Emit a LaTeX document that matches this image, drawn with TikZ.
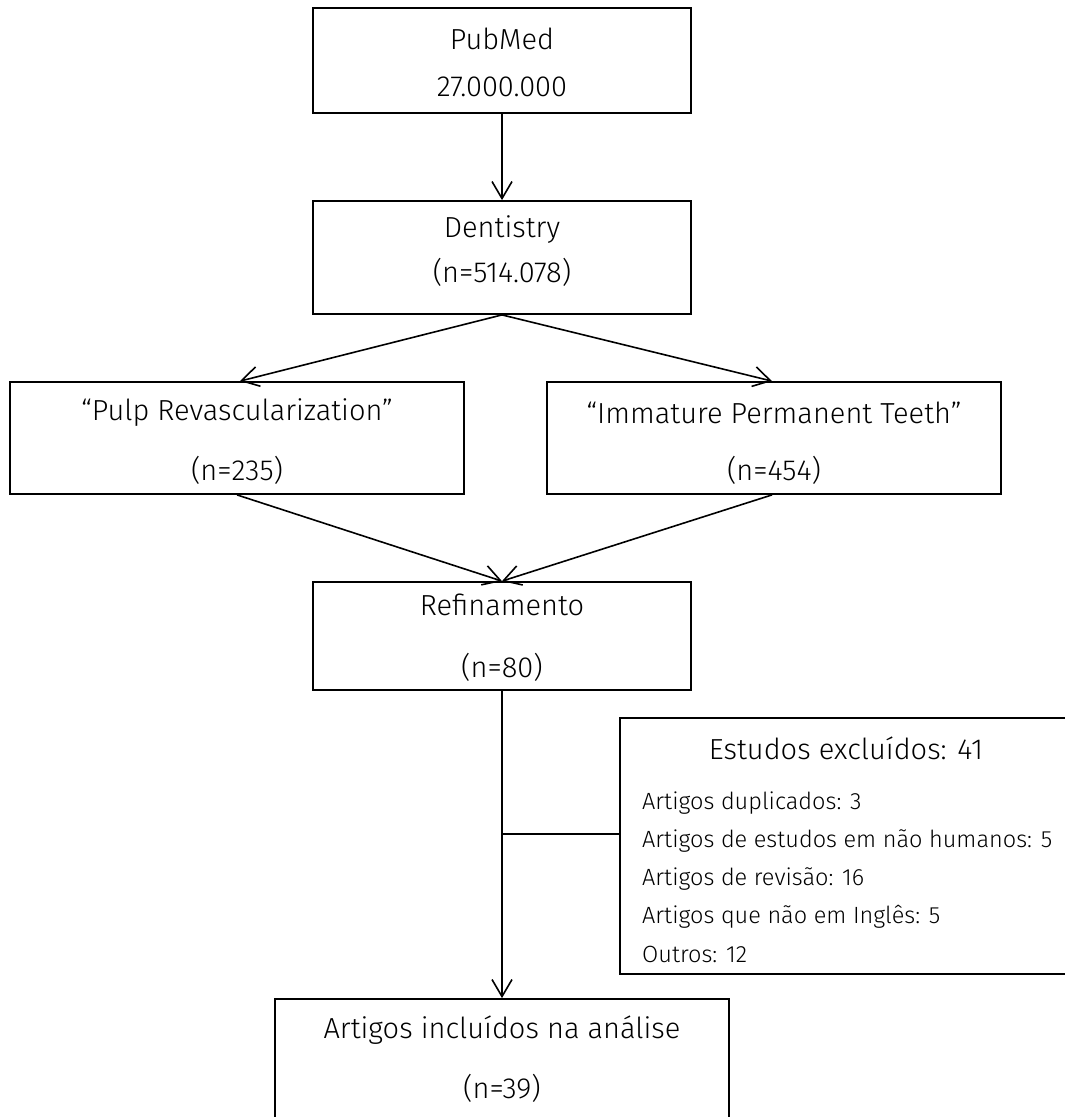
\documentclass[tikz,border=0pt]{standalone}
\usepackage{fontspec}
\setmainfont{Fira Sans}[UprightFont={* Light}]
\usetikzlibrary{arrows.meta}
\begin{document}
\begin{tikzpicture}[x=1pt,y=-1pt,
  box/.style={draw=black,line width=1.8pt,rectangle,inner sep=0pt},
  txt/.style={font=\fontsize{29}{31}\selectfont,inner sep=0pt,anchor=center},
  small/.style={font=\fontsize{23.5}{25}\selectfont,inner sep=0pt,anchor=west},
  conn/.style={line width=1.6pt},
  arr/.style={conn,-{Straight Barb[length=17pt,width=20pt,line width=1.6pt]}}]
\useasboundingbox (0,0) rectangle (1065,1117);
% boxes
\node[box,minimum width=378pt,minimum height=105pt] (pub) at (502,60.5) {};
\node[box,minimum width=378pt,minimum height=113pt] (den) at (502,257.5) {};
\node[box,minimum width=454pt,minimum height=112pt] (pulp) at (237,438) {};
\node[box,minimum width=454pt,minimum height=112pt] (imm) at (774,438) {};
\node[box,minimum width=378pt,minimum height=108pt] (ref) at (502,636) {};
\node[box,minimum width=500pt,minimum height=256pt] (exc) at (870,846) {};
\node[box,minimum width=454pt,minimum height=241pt] (inc) at (502,1119.5) {};
% texts
\node[txt] (pubA) at (502,39) {PubMed};
\node[txt] (pubB) at (502,87) {27.000.000};
\node[txt] (denA) at (502,230) {Dentistry};
\node[txt] (denB) at (502,272) {(n=514.078)};
\node[txt] (pulpA) at (237,413) {“Pulp Revascularization”};
\node[txt] (pulpB) at (237,470) {(n=235)};
\node[txt] (immA) at (774,413) {“Immature Permanent Teeth”};
\node[txt] (immB) at (774,470) {(n=454)};
\node[txt] (refA) at (502,605) {Refinamento};
\node[txt] (refB) at (502,667) {(n=80)};
\node[txt] (excT) at (846,748) {Estudos excluídos: 41};
\node[small] (e1) at (642,803) {Artigos duplicados: 3};
\node[small] (e2) at (642,841) {Artigos de estudos em não humanos: 5};
\node[small] (e3) at (642,879) {Artigos de revisão: 16};
\node[small] (e4) at (642,917) {Artigos que não em Inglês: 5};
\node[small] (e5) at (642,954) {Outros: 12};
\node[txt] (incA) at (502,1030) {Artigos incluídos na análise};
\node[txt] (incB) at (502,1088) {(n=39)};
% connectors
\coordinate (j) at (502,834);
\draw[arr] (pub.south) -- (den.north);
\draw[arr] (den.south) -- ([xshift=3pt]pulp.north);
\draw[arr] (den.south) -- ([xshift=-2pt]imm.north);
\draw[arr] (pulp.south) -- (ref.north);
\draw[arr] ([xshift=-2pt]imm.south) -- (ref.north);
\draw[arr] (ref.south) -- (inc.north);
\draw[conn] (j) -- (j -| exc.west);
\end{tikzpicture}
\end{document}
